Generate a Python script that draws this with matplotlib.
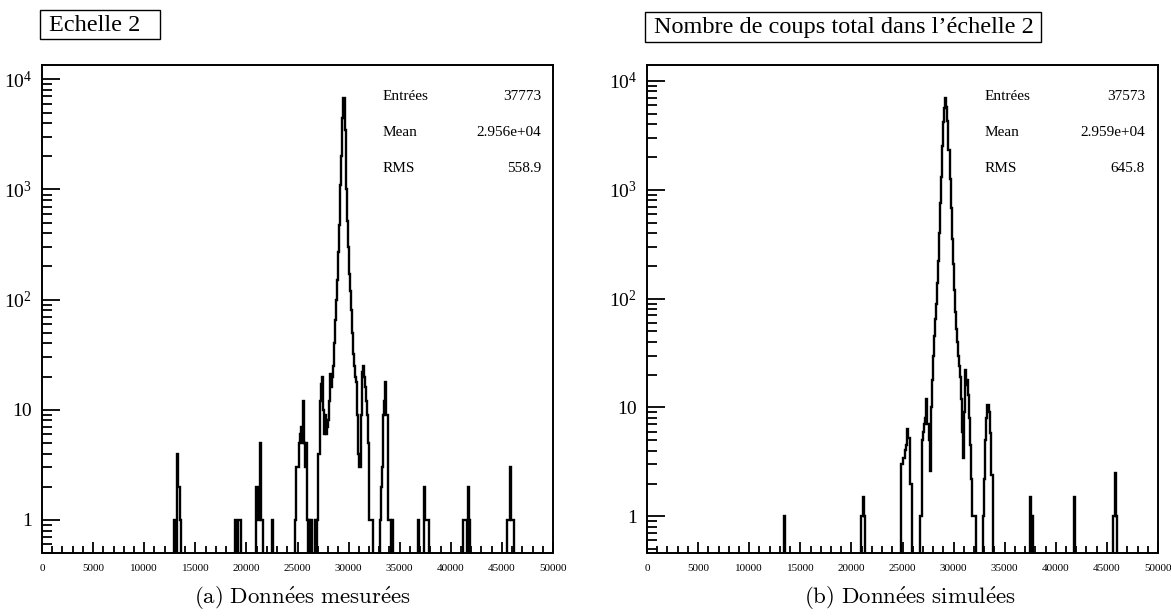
import numpy as np
import matplotlib
matplotlib.use("Agg")
import matplotlib.pyplot as plt
from matplotlib.patches import Rectangle
from matplotlib.ticker import FuncFormatter, MultipleLocator, LogLocator, NullFormatter

plt.rcParams['font.family'] = ['Liberation Serif', 'DejaVu Serif']
plt.rcParams['mathtext.fontset'] = 'stix'

# ---------------- data (bin width 100, range 0-50000) ----------------
BIN_WIDTH = 100
X_MAX = 50000

meas_start = [12900, 13000, 13200, 13300, 13400, 13500,
              18900, 19200, 19300, 19400,
              20900, 21000, 21100, 21200, 21300, 21400, 21500,
              22500,
              24800, 24900, 25000, 25100, 25200, 25300, 25400, 25500, 25600, 25700, 25800, 25900,
              26100, 26300, 26700,
              26900, 27000, 27100, 27200, 27300, 27400, 27500, 27600, 27700, 27800, 27900,
              28000, 28100, 28200, 28300, 28400, 28500, 28600, 28700, 28800, 28900,
              29000, 29100, 29200, 29300, 29400, 29500, 29600, 29700, 29800, 29900,
              30000, 30100, 30200, 30300, 30400, 30500, 30600, 30700, 30800, 30900,
              31000, 31100, 31200, 31300, 31400, 31500, 31600, 31700, 31800, 31900,
              32000, 32100, 32200, 32300,
              33100, 33200, 33300, 33400, 33500, 33600, 33700, 33800, 33900, 34000, 34200,
              36800, 37400, 37500, 37600, 37700, 37800,
              41200, 41300, 41400, 41500, 41700, 41800,
              45500, 45600, 45700, 45800, 45900, 46000, 46100]
meas_count = [1, 1, 4, 2, 2, 1,
              1, 1, 1, 1,
              2, 2, 1, 1, 5, 1, 1,
              1,
              1, 3, 3, 5, 6, 7, 5, 12, 5, 3, 5, 1,
              1, 1, 1,
              1, 4, 4, 12, 17, 20, 10, 6, 9, 6, 7,
              8, 12, 21, 16, 20, 25, 40, 65, 100, 150,
              270, 480, 1100, 2000, 4500, 6800, 3500, 1000, 520, 300,
              170, 120, 80, 50, 32, 25, 20, 18, 9, 4,
              3, 3, 9, 22, 25, 20, 16, 12, 9, 5,
              1, 1, 1, 1,
              1, 2, 3, 9, 12, 18, 9, 9, 1, 1, 1,
              1, 2, 1, 1, 1, 1,
              1, 1, 1, 1, 2, 1,
              1, 1, 1, 3, 1, 1, 1]

sim_start = [13400,
             20900, 21000, 21100, 21200,
             24900, 25000, 25100, 25200, 25300, 25400, 25500, 25600, 25700, 25800,
             26700, 26800, 26900, 27000, 27100, 27200, 27300, 27400, 27500, 27600, 27700,
             27800, 27900, 28000, 28100, 28200, 28300, 28400, 28500, 28600, 28700, 28800, 28900,
             29000, 29100, 29200, 29300, 29400, 29500, 29600, 29700, 29800, 29900,
             30000, 30100, 30200, 30300, 30400, 30500, 30600, 30700, 30800, 30900,
             31000, 31100, 31200, 31300, 31400, 31500, 31600, 31700, 31800, 31900, 32000, 32100,
             32900, 33000, 33100, 33200, 33300, 33400, 33500, 33600, 33700, 33800,
             37500, 37700,
             41800,
             45600, 45700, 45800, 45900]
sim_count = [1,
             1, 1, 1.5, 1,
             3, 3.4, 3.4, 4.1, 4.5, 6.3, 5.2, 5.2, 2, 2,
             1, 1, 5, 6, 7, 8, 12, 7, 7, 5, 2.6,
             10, 18, 30, 45, 65, 90, 140, 220, 400, 750, 1300, 2500,
             4200, 5600, 6900, 5800, 4300, 2300, 1250, 680, 350, 210,
             120, 75, 53, 40, 30, 24, 19, 12, 6, 3.4,
             9, 22, 16, 18, 13, 8, 4.5, 2.2, 1, 1, 1, 1,
             1, 2.2, 5, 8, 10.5, 10.5, 9, 5.8, 2.4, 2.4,
             1.5, 1,
             1.5,
             1, 1, 2.5, 1]

titles = ["Echelle 2", "Nombre de coups total dans l\u2019\u00e9chelle 2"]
captions = [r"$\mathrm{(a)\ Donn\acute{e}es\ mesur\acute{e}es}$",
            r"$\mathrm{(b)\ Donn\acute{e}es\ simul\acute{e}es}$"]
stat_names = ["Entr\u00e9es", "Mean", "RMS"]
meas_stats = ["37773", "2.956e+04", "558.9"]
sim_stats = ["37573", "2.959e+04", "645.8"]
x_ticklabels = [str(v) for v in range(0, 50001, 5000)]

# ---------------- figure ----------------
W, H = 1171, 616
fig = plt.figure(figsize=(W / 100, H / 100), dpi=100)

edges = np.arange(0, X_MAX + BIN_WIDTH, BIN_WIDTH)


def build(starts, counts):
    c = np.zeros(len(edges) - 1)
    idx = (np.array(starts) // BIN_WIDTH).astype(int)
    c[idx] = counts
    return c


def yfmt(v, pos):
    if v <= 0:
        return ""
    e = int(round(np.log10(v)))
    if e == 0:
        return "1"
    if e == 1:
        return "10"
    return r"$\mathregular{10^{%d}}$" % e


def setup(ax, counts, ylim):
    floor = 1e-3
    ax.stairs(np.where(counts > 0, counts, floor), edges, baseline=floor,
              color="black", lw=1.7)
    ax.set_yscale("log")
    ax.set_xlim(0, X_MAX)
    ax.set_ylim(*ylim)
    for s in ax.spines.values():
        s.set_linewidth(1.4)
    ax.xaxis.set_minor_locator(MultipleLocator(1000))
    ax.set_xticks(range(0, 50001, 5000))
    ax.set_xticklabels(x_ticklabels)
    ax.yaxis.set_major_locator(LogLocator(base=10, numticks=10))
    ax.yaxis.set_minor_locator(LogLocator(base=10, subs=np.arange(2, 10), numticks=10))
    ax.yaxis.set_major_formatter(FuncFormatter(yfmt))
    ax.yaxis.set_minor_formatter(NullFormatter())
    ax.tick_params(axis="x", which="both", direction="in", bottom=True, top=False,
                   labelsize=8, pad=8, width=1.3)
    ax.tick_params(axis="x", which="major", length=8)
    ax.tick_params(axis="x", which="minor", length=5)
    ax.tick_params(axis="y", which="both", direction="in", left=True, right=False,
                   labelsize=14, pad=7, width=1.3)
    ax.tick_params(axis="y", which="major", length=13)
    ax.tick_params(axis="y", which="minor", length=7)


ax1 = fig.add_axes([42 / W, 1 - 553 / H, 511 / W, (553 - 65) / H])
ax2 = fig.add_axes([647 / W, 1 - 553 / H, 511 / W, (553 - 65) / H])

setup(ax1, build(meas_start, meas_count), (0.5, 1.35e4))
setup(ax2, build(sim_start, sim_count), (0.46, 1.4e4))

# stats
for vals, xl, xr in [(meas_stats, 383, 541), (sim_stats, 985, 1145)]:
    for i, (n, v) in enumerate(zip(stat_names, vals)):
        yy = 1 - (96 + 36 * i) / H
        fig.text(xl / W, yy, n, ha="left", va="center", fontsize=11)
        fig.text(xr / W, yy, v, ha="right", va="center", fontsize=11)

# title boxes
for (x0, x1, y0, y1), t in zip([(40, 160, 10, 39), (645, 1041, 12, 42)], titles):
    fig.add_artist(Rectangle((x0 / W, 1 - y1 / H), (x1 - x0) / W, (y1 - y0) / H,
                             transform=fig.transFigure, fill=False, ec="black", lw=1.0))
    fig.text((x0 + 9) / W, 1 - ((y0 + y1) / 2 + 1) / H, t, ha="left", va="center",
             fontsize=17.5)

# captions
for xc, c in zip([302, 910], captions):
    fig.text(xc / W, 1 - 598 / H, c, ha="center", va="center", fontsize=16.5,
             math_fontfamily="cm")

fig.savefig("out.png", dpi=100)
